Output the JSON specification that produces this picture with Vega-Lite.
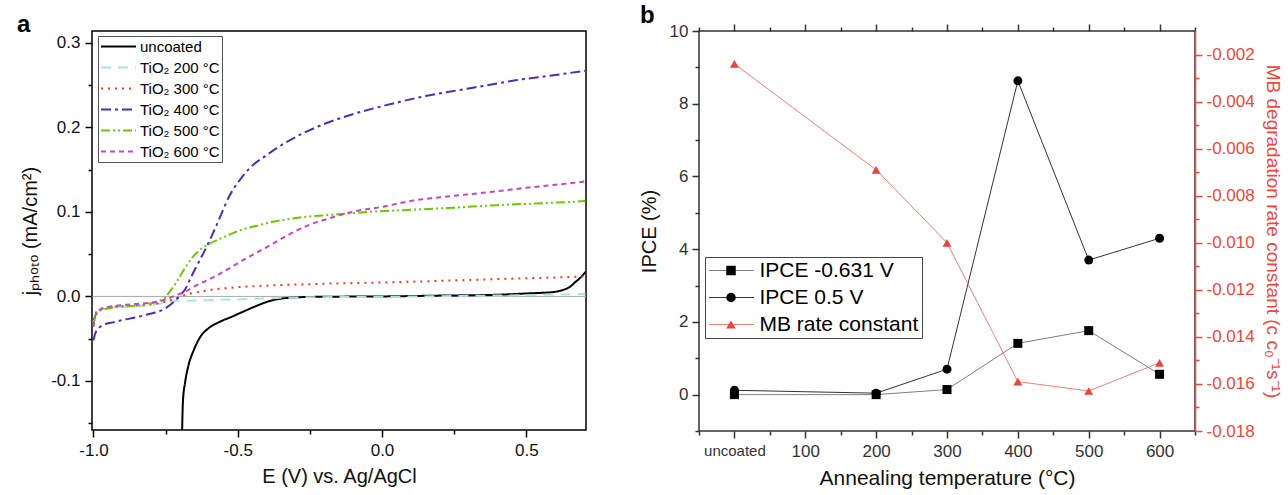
{
  "$schema": "https://vega.github.io/schema/vega-lite/v6.json",
  "padding": {"left": 16, "top": 3, "right": 3, "bottom": 2},
  "spacing": 50,
  "resolve": {
    "scale": {"stroke": "independent", "strokeDash": "independent", "fill": "independent", "shape": "independent", "size": "independent"},
    "legend": {"stroke": "independent", "strokeDash": "independent", "fill": "independent", "shape": "independent", "size": "independent"}
  },
  "config": {
    "font": "Liberation Sans",
    "view": {"stroke": "#000", "strokeWidth": 1.5},
    "axis": {"grid": false, "labelFont": "Liberation Sans", "titleFont": "Liberation Sans", "titleFontWeight": "normal", "labelOverlap": false, "labelFlush": false, "labelBound": false}
  },
  "datasets": {
    "curves": [
      {"E": -0.693, "j": -0.165, "s": "uncoated"}, {"E": -0.690, "j": -0.125, "s": "uncoated"}, {"E": -0.682, "j": -0.101, "s": "uncoated"}, {"E": -0.671, "j": -0.082, "s": "uncoated"}, {"E": -0.653, "j": -0.064, "s": "uncoated"}, {"E": -0.630, "j": -0.048, "s": "uncoated"}, {"E": -0.601, "j": -0.0376, "s": "uncoated"}, {"E": -0.566, "j": -0.0306, "s": "uncoated"}, {"E": -0.520, "j": -0.0239, "s": "uncoated"}, {"E": -0.474, "j": -0.0169, "s": "uncoated"}, {"E": -0.428, "j": -0.0102, "s": "uncoated"}, {"E": -0.382, "j": -0.0047, "s": "uncoated"}, {"E": -0.335, "j": -0.002, "s": "uncoated"}, {"E": -0.277, "j": -0.0008, "s": "uncoated"}, {"E": -0.2, "j": -0.0004, "s": "uncoated"}, {"E": 0.0, "j": 0.0, "s": "uncoated"}, {"E": 0.2, "j": 0.001, "s": "uncoated"}, {"E": 0.4, "j": 0.002, "s": "uncoated"}, {"E": 0.5, "j": 0.0035, "s": "uncoated"}, {"E": 0.55, "j": 0.0042, "s": "uncoated"}, {"E": 0.6, "j": 0.0055, "s": "uncoated"}, {"E": 0.63, "j": 0.008, "s": "uncoated"}, {"E": 0.65, "j": 0.011, "s": "uncoated"}, {"E": 0.67, "j": 0.017, "s": "uncoated"}, {"E": 0.69, "j": 0.023, "s": "uncoated"}, {"E": 0.705, "j": 0.029, "s": "uncoated"},

      {"E": -1.0, "j": -0.031, "s": "TiO₂ 200 °C"}, {"E": -0.995, "j": -0.024, "s": "TiO₂ 200 °C"}, {"E": -0.985, "j": -0.018, "s": "TiO₂ 200 °C"}, {"E": -0.97, "j": -0.015, "s": "TiO₂ 200 °C"}, {"E": -0.93, "j": -0.013, "s": "TiO₂ 200 °C"}, {"E": -0.88, "j": -0.012, "s": "TiO₂ 200 °C"}, {"E": -0.82, "j": -0.011, "s": "TiO₂ 200 °C"}, {"E": -0.78, "j": -0.009, "s": "TiO₂ 200 °C"}, {"E": -0.75, "j": -0.007, "s": "TiO₂ 200 °C"}, {"E": -0.72, "j": -0.0055, "s": "TiO₂ 200 °C"}, {"E": -0.65, "j": -0.0048, "s": "TiO₂ 200 °C"}, {"E": -0.5, "j": -0.0035, "s": "TiO₂ 200 °C"}, {"E": -0.38, "j": -0.002, "s": "TiO₂ 200 °C"}, {"E": -0.25, "j": -0.001, "s": "TiO₂ 200 °C"}, {"E": 0.0, "j": -0.0005, "s": "TiO₂ 200 °C"}, {"E": 0.25, "j": 0.0005, "s": "TiO₂ 200 °C"}, {"E": 0.5, "j": 0.0015, "s": "TiO₂ 200 °C"}, {"E": 0.705, "j": 0.003, "s": "TiO₂ 200 °C"},

      {"E": -1.0, "j": -0.028, "s": "TiO₂ 300 °C"}, {"E": -0.995, "j": -0.022, "s": "TiO₂ 300 °C"}, {"E": -0.985, "j": -0.017, "s": "TiO₂ 300 °C"}, {"E": -0.96, "j": -0.0135, "s": "TiO₂ 300 °C"}, {"E": -0.9, "j": -0.0115, "s": "TiO₂ 300 °C"}, {"E": -0.85, "j": -0.0105, "s": "TiO₂ 300 °C"}, {"E": -0.8, "j": -0.0095, "s": "TiO₂ 300 °C"}, {"E": -0.76, "j": -0.007, "s": "TiO₂ 300 °C"}, {"E": -0.73, "j": -0.004, "s": "TiO₂ 300 °C"}, {"E": -0.70, "j": -0.0005, "s": "TiO₂ 300 °C"}, {"E": -0.67, "j": 0.003, "s": "TiO₂ 300 °C"}, {"E": -0.64, "j": 0.005, "s": "TiO₂ 300 °C"}, {"E": -0.59, "j": 0.008, "s": "TiO₂ 300 °C"}, {"E": -0.54, "j": 0.0098, "s": "TiO₂ 300 °C"}, {"E": -0.48, "j": 0.0115, "s": "TiO₂ 300 °C"}, {"E": -0.42, "j": 0.0125, "s": "TiO₂ 300 °C"}, {"E": -0.3, "j": 0.014, "s": "TiO₂ 300 °C"}, {"E": -0.2, "j": 0.015, "s": "TiO₂ 300 °C"}, {"E": 0.0, "j": 0.0165, "s": "TiO₂ 300 °C"}, {"E": 0.12, "j": 0.0176, "s": "TiO₂ 300 °C"}, {"E": 0.25, "j": 0.019, "s": "TiO₂ 300 °C"}, {"E": 0.4, "j": 0.0205, "s": "TiO₂ 300 °C"}, {"E": 0.5, "j": 0.0215, "s": "TiO₂ 300 °C"}, {"E": 0.6, "j": 0.0225, "s": "TiO₂ 300 °C"}, {"E": 0.705, "j": 0.0237, "s": "TiO₂ 300 °C"},

      {"E": -1.0, "j": -0.052, "s": "TiO₂ 400 °C"}, {"E": -0.995, "j": -0.045, "s": "TiO₂ 400 °C"}, {"E": -0.983, "j": -0.038, "s": "TiO₂ 400 °C"}, {"E": -0.96, "j": -0.033, "s": "TiO₂ 400 °C"}, {"E": -0.936, "j": -0.031, "s": "TiO₂ 400 °C"}, {"E": -0.9, "j": -0.028, "s": "TiO₂ 400 °C"}, {"E": -0.855, "j": -0.025, "s": "TiO₂ 400 °C"}, {"E": -0.82, "j": -0.022, "s": "TiO₂ 400 °C"}, {"E": -0.786, "j": -0.019, "s": "TiO₂ 400 °C"}, {"E": -0.76, "j": -0.016, "s": "TiO₂ 400 °C"}, {"E": -0.746, "j": -0.013, "s": "TiO₂ 400 °C"}, {"E": -0.73, "j": -0.009, "s": "TiO₂ 400 °C"}, {"E": -0.717, "j": -0.005, "s": "TiO₂ 400 °C"}, {"E": -0.70, "j": 0.001, "s": "TiO₂ 400 °C"}, {"E": -0.682, "j": 0.0086, "s": "TiO₂ 400 °C"}, {"E": -0.66, "j": 0.024, "s": "TiO₂ 400 °C"}, {"E": -0.636, "j": 0.040, "s": "TiO₂ 400 °C"}, {"E": -0.601, "j": 0.0635, "s": "TiO₂ 400 °C"}, {"E": -0.575, "j": 0.083, "s": "TiO₂ 400 °C"}, {"E": -0.555, "j": 0.0988, "s": "TiO₂ 400 °C"}, {"E": -0.53, "j": 0.118, "s": "TiO₂ 400 °C"}, {"E": -0.515, "j": 0.127, "s": "TiO₂ 400 °C"}, {"E": -0.49, "j": 0.139, "s": "TiO₂ 400 °C"}, {"E": -0.452, "j": 0.1539, "s": "TiO₂ 400 °C"}, {"E": -0.406, "j": 0.1657, "s": "TiO₂ 400 °C"}, {"E": -0.337, "j": 0.1814, "s": "TiO₂ 400 °C"}, {"E": -0.28, "j": 0.192, "s": "TiO₂ 400 °C"}, {"E": -0.222, "j": 0.201, "s": "TiO₂ 400 °C"}, {"E": -0.107, "j": 0.215, "s": "TiO₂ 400 °C"}, {"E": 0.0, "j": 0.225, "s": "TiO₂ 400 °C"}, {"E": 0.066, "j": 0.2306, "s": "TiO₂ 400 °C"}, {"E": 0.15, "j": 0.237, "s": "TiO₂ 400 °C"}, {"E": 0.238, "j": 0.2424, "s": "TiO₂ 400 °C"}, {"E": 0.35, "j": 0.249, "s": "TiO₂ 400 °C"}, {"E": 0.468, "j": 0.256, "s": "TiO₂ 400 °C"}, {"E": 0.58, "j": 0.261, "s": "TiO₂ 400 °C"}, {"E": 0.705, "j": 0.267, "s": "TiO₂ 400 °C"},

      {"E": -1.0, "j": -0.035, "s": "TiO₂ 500 °C"}, {"E": -0.995, "j": -0.026, "s": "TiO₂ 500 °C"}, {"E": -0.985, "j": -0.019, "s": "TiO₂ 500 °C"}, {"E": -0.96, "j": -0.015, "s": "TiO₂ 500 °C"}, {"E": -0.9, "j": -0.012, "s": "TiO₂ 500 °C"}, {"E": -0.855, "j": -0.011, "s": "TiO₂ 500 °C"}, {"E": -0.8, "j": -0.008, "s": "TiO₂ 500 °C"}, {"E": -0.77, "j": -0.005, "s": "TiO₂ 500 °C"}, {"E": -0.751, "j": -0.001, "s": "TiO₂ 500 °C"}, {"E": -0.735, "j": 0.006, "s": "TiO₂ 500 °C"}, {"E": -0.717, "j": 0.0145, "s": "TiO₂ 500 °C"}, {"E": -0.70, "j": 0.024, "s": "TiO₂ 500 °C"}, {"E": -0.682, "j": 0.034, "s": "TiO₂ 500 °C"}, {"E": -0.66, "j": 0.045, "s": "TiO₂ 500 °C"}, {"E": -0.636, "j": 0.0537, "s": "TiO₂ 500 °C"}, {"E": -0.6, "j": 0.062, "s": "TiO₂ 500 °C"}, {"E": -0.566, "j": 0.0675, "s": "TiO₂ 500 °C"}, {"E": -0.53, "j": 0.073, "s": "TiO₂ 500 °C"}, {"E": -0.486, "j": 0.079, "s": "TiO₂ 500 °C"}, {"E": -0.43, "j": 0.084, "s": "TiO₂ 500 °C"}, {"E": -0.382, "j": 0.088, "s": "TiO₂ 500 °C"}, {"E": -0.277, "j": 0.0937, "s": "TiO₂ 500 °C"}, {"E": -0.162, "j": 0.0969, "s": "TiO₂ 500 °C"}, {"E": -0.046, "j": 0.1, "s": "TiO₂ 500 °C"}, {"E": 0.116, "j": 0.1027, "s": "TiO₂ 500 °C"}, {"E": 0.25, "j": 0.105, "s": "TiO₂ 500 °C"}, {"E": 0.4, "j": 0.108, "s": "TiO₂ 500 °C"}, {"E": 0.5, "j": 0.1095, "s": "TiO₂ 500 °C"}, {"E": 0.6, "j": 0.111, "s": "TiO₂ 500 °C"}, {"E": 0.705, "j": 0.1128, "s": "TiO₂ 500 °C"},

      {"E": -1.0, "j": -0.036, "s": "TiO₂ 600 °C"}, {"E": -0.997, "j": -0.028, "s": "TiO₂ 600 °C"}, {"E": -0.99, "j": -0.02, "s": "TiO₂ 600 °C"}, {"E": -0.975, "j": -0.015, "s": "TiO₂ 600 °C"}, {"E": -0.94, "j": -0.012, "s": "TiO₂ 600 °C"}, {"E": -0.855, "j": -0.009, "s": "TiO₂ 600 °C"}, {"E": -0.775, "j": -0.006, "s": "TiO₂ 600 °C"}, {"E": -0.745, "j": -0.003, "s": "TiO₂ 600 °C"}, {"E": -0.717, "j": 0.001, "s": "TiO₂ 600 °C"}, {"E": -0.68, "j": 0.006, "s": "TiO₂ 600 °C"}, {"E": -0.647, "j": 0.0125, "s": "TiO₂ 600 °C"}, {"E": -0.6, "j": 0.02, "s": "TiO₂ 600 °C"}, {"E": -0.566, "j": 0.026, "s": "TiO₂ 600 °C"}, {"E": -0.486, "j": 0.042, "s": "TiO₂ 600 °C"}, {"E": -0.393, "j": 0.0596, "s": "TiO₂ 600 °C"}, {"E": -0.301, "j": 0.077, "s": "TiO₂ 600 °C"}, {"E": -0.25, "j": 0.085, "s": "TiO₂ 600 °C"}, {"E": -0.196, "j": 0.091, "s": "TiO₂ 600 °C"}, {"E": -0.104, "j": 0.1, "s": "TiO₂ 600 °C"}, {"E": 0.0, "j": 0.106, "s": "TiO₂ 600 °C"}, {"E": 0.11, "j": 0.1135, "s": "TiO₂ 600 °C"}, {"E": 0.25, "j": 0.119, "s": "TiO₂ 600 °C"}, {"E": 0.4, "j": 0.1245, "s": "TiO₂ 600 °C"}, {"E": 0.5, "j": 0.1285, "s": "TiO₂ 600 °C"}, {"E": 0.6, "j": 0.132, "s": "TiO₂ 600 °C"}, {"E": 0.705, "j": 0.136, "s": "TiO₂ 600 °C"}
    ],
    "zero": [{"j": 0}],
    "ipce": [
      {"T": 0, "series": "IPCE -0.631 V", "v": 0.0},
      {"T": 200, "series": "IPCE -0.631 V", "v": 0.0},
      {"T": 300, "series": "IPCE -0.631 V", "v": 0.14},
      {"T": 400, "series": "IPCE -0.631 V", "v": 1.41},
      {"T": 500, "series": "IPCE -0.631 V", "v": 1.76},
      {"T": 600, "series": "IPCE -0.631 V", "v": 0.56},
      {"T": 0, "series": "IPCE 0.5 V", "v": 0.12},
      {"T": 200, "series": "IPCE 0.5 V", "v": 0.04},
      {"T": 300, "series": "IPCE 0.5 V", "v": 0.70},
      {"T": 400, "series": "IPCE 0.5 V", "v": 8.63},
      {"T": 500, "series": "IPCE 0.5 V", "v": 3.70},
      {"T": 600, "series": "IPCE 0.5 V", "v": 4.30},
      {"T": 0, "series": "MB rate constant", "v": -0.0024},
      {"T": 200, "series": "MB rate constant", "v": -0.0069},
      {"T": 300, "series": "MB rate constant", "v": -0.0100},
      {"T": 400, "series": "MB rate constant", "v": -0.0159},
      {"T": 500, "series": "MB rate constant", "v": -0.0163},
      {"T": 600, "series": "MB rate constant", "v": -0.0151}
    ]
  },
  "hconcat": [
    {
      "width": 494,
      "height": 399,
      "title": {"text": "a", "anchor": "start", "frame": "group", "dx": -75, "offset": -6, "fontSize": 24, "fontWeight": "bold", "color": "#000", "font": "Liberation Sans"},
      "layer": [
        {
          "data": {"name": "zero"},
          "mark": {"type": "rule", "color": "#aaaaaa", "strokeWidth": 1},
          "encoding": {"y": {"field": "j", "type": "quantitative", "scale": {"domain": [-0.158, 0.314], "nice": false, "zero": false}}}
        },
        {
          "data": {"name": "curves"},
          "mark": {"type": "line", "strokeWidth": 2, "clip": true, "interpolate": "monotone"},
          "encoding": {
            "x": {"field": "E", "type": "quantitative",
              "scale": {"domain": [-1.005, 0.707], "nice": false, "zero": false},
              "axis": {"values": [-1, -0.75, -0.5, -0.25, 0, 0.25, 0.5],
                "labelExpr": "abs(datum.value*2 - round(datum.value*2)) < 0.001 ? replace(format(datum.value, '.1f'), '\u2212', '-') : ''",
                "tickSize": {"condition": {"test": "abs(datum.value*2 - round(datum.value*2)) < 0.001", "value": 7}, "value": 4},
                "tickColor": "#000", "tickWidth": 1.5, "domain": false,
                "labelFontSize": 17, "labelColor": "#111", "labelPadding": 5,
                "title": "E (V) vs. Ag/AgCl", "titleFontSize": 20, "titleColor": "#111", "titlePadding": 8}},
            "y": {"field": "j", "type": "quantitative",
              "scale": {"domain": [-0.158, 0.314], "nice": false, "zero": false},
              "axis": {"values": [-0.15, -0.1, -0.05, 0, 0.05, 0.1, 0.15, 0.2, 0.25, 0.3],
                "labelExpr": "abs(datum.value*10 - round(datum.value*10)) < 0.001 ? replace(format(datum.value, '.1f'), '\u2212', '-') : ''",
                "tickSize": {"condition": {"test": "abs(datum.value*10 - round(datum.value*10)) < 0.001", "value": 7}, "value": 4},
                "tickColor": "#000", "tickWidth": 1.5, "domain": false,
                "labelFontSize": 17, "labelColor": "#111", "labelPadding": 5,
                "title": "jₚₕₒₜₒ (mA/cm²)", "titleFontSize": 20, "titleColor": "#111", "titlePadding": 10}},
            "stroke": {"field": "s", "type": "nominal",
              "scale": {"domain": ["uncoated", "TiO₂ 200 °C", "TiO₂ 300 °C", "TiO₂ 400 °C", "TiO₂ 500 °C", "TiO₂ 600 °C"],
                "range": ["#000000", "#a6e6e8", "#f03c1e", "#4f2fb0", "#6cc800", "#c444c8"]},
              "legend": {"orient": "none", "legendX": 6, "legendY": 5, "title": null, "symbolType": "stroke", "symbolSize": 1225, "symbolStrokeWidth": 2, "clipHeight": 17, "rowPadding": 4, "padding": 2, "labelFontSize": 15, "labelFont": "Liberation Sans", "labelColor": "#000", "labelOffset": 3, "strokeColor": "#555", "fillColor": "#ffffff"}},
            "strokeDash": {"field": "s", "type": "nominal",
              "scale": {"domain": ["uncoated", "TiO₂ 200 °C", "TiO₂ 300 °C", "TiO₂ 400 °C", "TiO₂ 500 °C", "TiO₂ 600 °C"],
                "range": [[1, 0], [10, 7], [2, 5], [10, 4, 3, 4], [9, 3, 2, 3, 2, 3], [5, 4]]},
              "legend": {"orient": "none", "legendX": 6, "legendY": 5, "title": null, "symbolType": "stroke", "symbolSize": 1225, "symbolStrokeWidth": 2, "clipHeight": 17, "rowPadding": 4, "padding": 2, "labelFontSize": 15, "labelFont": "Liberation Sans", "labelColor": "#000", "labelOffset": 3, "strokeColor": "#555", "fillColor": "#ffffff"}},
            "order": {"field": "E", "type": "quantitative"}
          }
        }
      ]
    },
    {
      "width": 496,
      "height": 400,
      "view": {"stroke": "#333", "strokeWidth": 1.5},
      "title": {"text": "b", "anchor": "start", "frame": "group", "dx": -59, "offset": -6, "fontSize": 24, "fontWeight": "bold", "color": "#000", "font": "Liberation Sans"},
      "data": {"name": "ipce"},
      "layer": [
        {
          "transform": [{"filter": "datum.series !== 'MB rate constant'"}],
          "encoding": {
            "x": {"field": "T", "type": "quantitative",
              "scale": {"domain": [-50, 650], "nice": false, "zero": false},
              "axis": {"orient": "bottom", "values": [-50, 0, 50, 100, 150, 200, 250, 300, 350, 400, 450, 500, 550, 600, 650],
                "labelExpr": "datum.value === 0 ? 'uncoated' : (datum.value % 100 === 0 ? datum.label : '')",
                "labelFontSize": {"condition": {"test": "datum.value === 0", "value": 15}, "value": 17},
                "tickSize": {"condition": {"test": "datum.value % 100 === 0", "value": 7}, "value": 4},
                "tickColor": "#333", "tickWidth": 1.5, "domain": false,
                "labelColor": "#333", "labelPadding": 5,
                "title": "Annealing temperature (°C)", "titleFontSize": 21, "titleColor": "#111", "titlePadding": 8}},
            "y": {"field": "v", "type": "quantitative",
              "scale": {"domain": [-1, 10], "nice": false, "zero": false},
              "axis": {"orient": "left", "values": [-1, 0, 1, 2, 3, 4, 5, 6, 7, 8, 9, 10],
                "labelExpr": "datum.value % 2 === 0 ? datum.label : ''",
                "tickSize": {"condition": {"test": "datum.value % 2 === 0", "value": 7}, "value": 4},
                "tickColor": "#333", "tickWidth": 1.5, "domain": false,
                "labelFontSize": 17, "labelColor": "#333", "labelPadding": 4,
                "title": "IPCE (%)", "titleFontSize": 20, "titleColor": "#111", "titlePadding": 10}}
          },
          "layer": [
            {
              "mark": {"type": "line", "strokeWidth": 1},
              "encoding": {
                "stroke": {"field": "series", "type": "nominal",
                  "scale": {"domain": ["IPCE -0.631 V", "IPCE 0.5 V", "MB rate constant"], "range": ["#808080", "#333333", "#f47f74"]},
                  "legend": {"orient": "none", "legendX": 6, "legendY": 226, "title": null, "symbolType": "stroke", "symbolSize": 2025, "symbolStrokeWidth": 1, "clipHeight": 20, "rowPadding": 6, "padding": 3.5, "labelFontSize": 21, "labelFont": "Liberation Sans", "labelColor": "#000", "labelOffset": 5, "strokeColor": "#444"}}
              }
            },
            {
              "mark": {"type": "point", "filled": true, "opacity": 1, "strokeWidth": 0},
              "encoding": {
                "shape": {"field": "series", "type": "nominal",
                  "scale": {"domain": ["IPCE -0.631 V", "IPCE 0.5 V", "MB rate constant", " "], "range": ["square", "circle", "triangle-up", "square"]},
                  "legend": null},
                "fill": {"field": "series", "type": "nominal",
                  "scale": {"domain": ["IPCE -0.631 V", "IPCE 0.5 V", "MB rate constant", " "], "range": ["#000000", "#000000", "#e8453c", "transparent"]},
                  "legend": null},
                "size": {"field": "series", "type": "nominal",
                  "scale": {"domain": ["IPCE -0.631 V", "IPCE 0.5 V", "MB rate constant"], "range": [81, 80, 121]},
                  "legend": null}
              }
            }
          ]
        },
        {
          "transform": [{"filter": "datum.series === 'MB rate constant'"}],
          "encoding": {
            "x": {"field": "T", "type": "quantitative",
              "scale": {"domain": [-50, 650], "nice": false, "zero": false},
              "axis": {"orient": "top", "values": [-50, 0, 50, 100, 150, 200, 250, 300, 350, 400, 450, 500, 550, 600, 650],
                "labels": false, "title": null,
                "tickSize": {"condition": {"test": "datum.value % 100 === 0", "value": 7}, "value": 4},
                "tickColor": "#333", "tickWidth": 1.5, "domain": false}},
            "y": {"field": "v", "type": "quantitative",
              "scale": {"domain": [-0.018, -0.001], "nice": false, "zero": false},
              "axis": {"orient": "right", "values": [-0.018, -0.017, -0.016, -0.015, -0.014, -0.013, -0.012, -0.011, -0.01, -0.009, -0.008, -0.007, -0.006, -0.005, -0.004, -0.003, -0.002],
                "labelExpr": "abs(datum.value*500 - round(datum.value*500)) < 0.001 ? replace(format(datum.value, '.3f'), '\u2212', '-') : ''",
                "tickSize": {"condition": {"test": "abs(datum.value*500 - round(datum.value*500)) < 0.001", "value": 7}, "value": 4},
                "tickColor": "#f0463c", "tickWidth": 1.5, "domain": true, "domainColor": "#f0463c", "domainWidth": 1.5,
                "labelFontSize": 17, "labelColor": "#f0463c", "labelPadding": 4,
                "title": "MB degradation rate constant (c c₀⁻¹s⁻¹)", "titleFontSize": 19, "titleColor": "#f0463c", "titlePadding": 8}}
          },
          "layer": [
            {
              "mark": {"type": "line", "strokeWidth": 1},
              "encoding": {
                "stroke": {"field": "series", "type": "nominal",
                  "scale": {"domain": ["IPCE -0.631 V", "IPCE 0.5 V", "MB rate constant"], "range": ["#808080", "#333333", "#f47f74"]},
                  "legend": null}
              }
            },
            {
              "mark": {"type": "point", "filled": true, "opacity": 1, "strokeWidth": 0},
              "encoding": {
                "shape": {"field": "series", "type": "nominal",
                  "scale": {"domain": ["IPCE -0.631 V", "IPCE 0.5 V", "MB rate constant", " "], "range": ["square", "circle", "triangle-up", "square"]},
                  "legend": {"orient": "none", "legendX": 18, "legendY": 226, "title": null, "symbolSize": 90, "clipHeight": 20, "rowPadding": 6, "padding": 3.5, "labelFontSize": 21, "labelFont": "Liberation Sans", "labelOpacity": 0}},
                "fill": {"field": "series", "type": "nominal",
                  "scale": {"domain": ["IPCE -0.631 V", "IPCE 0.5 V", "MB rate constant", " "], "range": ["#000000", "#000000", "#e8453c", "transparent"]},
                  "legend": {"orient": "none", "legendX": 18, "legendY": 226, "title": null, "symbolSize": 90, "clipHeight": 20, "rowPadding": 6, "padding": 3.5, "labelFontSize": 21, "labelFont": "Liberation Sans", "labelOpacity": 0}},
                "size": {"field": "series", "type": "nominal",
                  "scale": {"domain": ["IPCE -0.631 V", "IPCE 0.5 V", "MB rate constant"], "range": [81, 80, 121]},
                  "legend": null}
              }
            }
          ]
        }
      ],
      "resolve": {
        "scale": {"y": "independent"},
        "axis": {"x": "independent", "y": "independent"},
        "legend": {"stroke": "independent", "fill": "independent", "shape": "independent"}
      }
    }
  ]
}
